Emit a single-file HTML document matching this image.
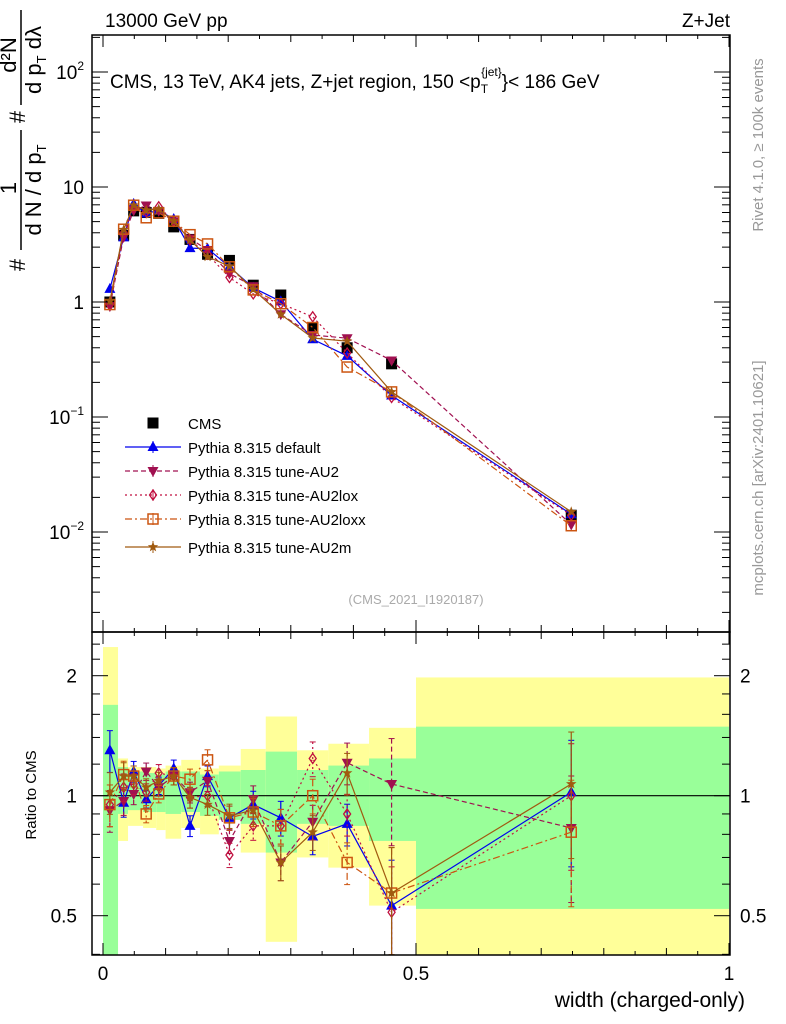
<!DOCTYPE html>
<html><head><meta charset="utf-8"><style>
body{margin:0;background:#fff;}
svg{font-family:"Liberation Sans",sans-serif;display:block;}
</style></head><body>
<svg id="c" width="786" height="1024" viewBox="0 0 786 1024"></svg>
<script>
const binEdges=[0,0.024,0.04,0.064,0.085,0.10,0.125,0.155,0.185,0.22,0.26,0.31,0.36,0.425,0.5,1.0];
const xPts=[0.011,0.033,0.049,0.069,0.089,0.113,0.139,0.167,0.202,0.24,0.284,0.335,0.39,0.461,0.748];
const cmsVals=[1.0,3.8,6.2,6.0,5.9,4.5,3.5,2.6,2.3,1.4,1.15,0.6,0.4,0.29,0.014];
const yellowHi=[2.36,1.24,1.18,1.18,1.17,1.19,1.23,1.17,1.19,1.31,1.58,1.30,1.35,1.48,1.98];
const greenHi=[1.69,1.18,1.15,1.14,1.13,1.15,1.15,1.13,1.15,1.16,1.29,1.16,1.19,1.24,1.49];
const greenLo=[0.3,0.90,0.92,0.91,0.91,0.90,0.91,0.89,0.87,0.85,0.72,0.85,0.84,0.77,0.52];
const yellowLo=[0.3,0.77,0.84,0.83,0.82,0.78,0.83,0.80,0.87,0.72,0.43,0.70,0.66,0.53,0.35];
const rDefault=[1.30,0.96,1.15,0.98,1.06,1.17,0.84,1.12,0.88,0.95,0.88,0.79,0.85,0.53,1.02];
const rAU2=[0.92,0.97,1.01,1.15,1.05,1.12,1.02,1.09,0.77,0.98,0.68,0.86,1.21,1.07,0.83];
const rAU2lox=[0.95,1.05,1.07,1.02,1.14,1.12,0.99,1.0,0.71,0.84,0.84,1.24,0.90,0.51,1.0];
const rAU2loxx=[0.95,1.13,1.12,0.90,1.01,1.12,1.10,1.23,0.88,0.91,0.84,1.0,0.68,0.57,0.81];
const rAU2m=[1.02,1.12,1.12,1.05,1.09,1.12,0.99,0.95,0.89,0.92,0.68,0.81,1.14,0.57,1.07];
const relErr=[0.12,0.08,0.06,0.05,0.05,0.05,0.06,0.06,0.07,0.08,0.1,0.1,0.12,0.3,0.35];

const NS="http://www.w3.org/2000/svg";
const svg=document.getElementById('c');
const X0=92,X1=730,T0=35,T1=632,B1=955;
const xs=v=>103+626*v;
const ym=v=>302-115*Math.log10(v);
const yr=r=>795.7-120*Math.log2(r);
function el(tag,attrs,parent){const e=document.createElementNS(NS,tag);for(const k in attrs)e.setAttribute(k,attrs[k]);(parent||svg).appendChild(e);return e;}
function txt(s,attrs,parent){const e=el('text',attrs,parent);e.textContent=s;return e;}

const defs=el('defs',{});
const cp1=el('clipPath',{id:'cm'},defs);el('rect',{x:X0,y:T0,width:X1-X0,height:T1-T0},cp1);
const cp2=el('clipPath',{id:'cr'},defs);el('rect',{x:X0,y:T1,width:X1-X0,height:B1-T1},cp2);

const gR=el('g',{'clip-path':'url(#cr)'});


for(let i=0;i<binEdges.length-1;i++){
  const a=xs(binEdges[i]),b=xs(binEdges[i+1]);
  const y=el('rect',{x:a,y:yr(yellowHi[i]),width:b-a,height:yr(yellowLo[i])-yr(yellowHi[i]),fill:'#ffff99'},gR);
  
  
  const g=el('rect',{x:a,y:yr(greenHi[i]),width:b-a,height:yr(greenLo[i])-yr(greenHi[i]),fill:'#99ff99'},gR);
  
  
}
el('line',{x1:X0,x2:X1,y1:yr(1),y2:yr(1),stroke:'#000','stroke-width':1.2},gR);

const gM=el('g',{'clip-path':'url(#cm)'});



function marker(kind,color,x,y,p){
  let m;
  if(kind==='sq')m=el('rect',{x:x-5.5,y:y-5.5,width:11,height:11,fill:'#000'},p);
  else if(kind==='tu')m=el('polygon',{points:`${x},${y-6} ${x-5.5},${y+4} ${x+5.5},${y+4}`,fill:color},p);
  else if(kind==='td')m=el('polygon',{points:`${x},${y+6} ${x-5.5},${y-4} ${x+5.5},${y-4}`,fill:color},p);
  else if(kind==='di')m=el('polygon',{points:`${x},${y-5} ${x+3.5},${y} ${x},${y+5} ${x-3.5},${y}`,fill:'none',stroke:color,'stroke-width':1.3},p);
  else if(kind==='os')m=el('rect',{x:x-5,y:y-5,width:10,height:10,fill:'none',stroke:color,'stroke-width':1.5},p);
  else if(kind==='st'){let pts=[];for(let k=0;k<10;k++){const r=k%2?2.3:5.5,a=-Math.PI/2+k*Math.PI/5;pts.push((x+r*Math.cos(a)).toFixed(1)+','+(y+r*Math.sin(a)).toFixed(1));}m=el('polygon',{points:pts.join(' '),fill:color},p);}
  return m;
}
const series=[
 {name:'Pythia 8.315 default',r:rDefault,c:'#0000ee',k:'tu',d:'',id:'default'},
 {name:'Pythia 8.315 tune-AU2',r:rAU2,c:'#a01050',k:'td',d:'5,3',id:'au2'},
 {name:'Pythia 8.315 tune-AU2lox',r:rAU2lox,c:'#c01040',k:'di',d:'2,3',id:'au2lox'},
 {name:'Pythia 8.315 tune-AU2loxx',r:rAU2loxx,c:'#cc5511',k:'os',d:'7,3,2,3',id:'au2loxx'},
 {name:'Pythia 8.315 tune-AU2m',r:rAU2m,c:'#a05a10',k:'st',d:'',id:'au2m'}
];
for(let i=0;i<xPts.length;i++){
  const m=marker('sq','#000',xs(xPts[i]),ym(cmsVals[i]),gM);
  
  
}
series.forEach(s=>{
  const pm=xPts.map((x,i)=>xs(x)+','+ym(cmsVals[i]*s.r[i]).toFixed(1)).join(' ');
  const l=el('polyline',{points:pm,fill:'none',stroke:s.c,'stroke-width':1.2,'stroke-dasharray':s.d},gM);
  
  
  const pr=xPts.map((x,i)=>xs(x)+','+yr(s.r[i]).toFixed(1)).join(' ');
  const l2=el('polyline',{points:pr,fill:'none',stroke:s.c,'stroke-width':1.2,'stroke-dasharray':s.d},gR);
  
  
  xPts.forEach((x,i)=>{
    const cx=xs(x),v=s.r[i],e=relErr[i];
    el('line',{x1:cx,x2:cx,y1:yr(v*(1+e)),y2:yr(v*(1-e)),stroke:s.c,'stroke-width':1.2,'stroke-dasharray':s.d},gR);
    el('line',{x1:cx-3,x2:cx+3,y1:yr(v*(1+e)),y2:yr(v*(1+e)),stroke:s.c},gR);
    el('line',{x1:cx-3,x2:cx+3,y1:yr(v*(1-e)),y2:yr(v*(1-e)),stroke:s.c},gR);
    const m=marker(s.k,s.c,cx,ym(cmsVals[i]*v),gM);
    
    
    const m2=marker(s.k,s.c,cx,yr(v),gR);
    
    
  });
});

el('rect',{x:X0,y:T0,width:X1-X0,height:T1-T0,fill:'none',stroke:'#000','stroke-width':1.5});
el('rect',{x:X0,y:T1,width:X1-X0,height:B1-T1,fill:'none',stroke:'#000','stroke-width':1.5});
for(let k=0;k<=20;k++){const v=k*0.05,x=xs(v);const L=k%10===0?12:(k%2===0?7:4);
  [[T0,1],[T1,-1],[T1,1],[B1,-1]].forEach(([y,d])=>el('line',{x1:x,x2:x,y1:y,y2:y+d*L,stroke:'#000'}));}
[['0',0],['0.5',0.5],['1',1]].forEach(([s,v])=>{const t=txt(s,{x:xs(v),y:980,'font-size':19,'text-anchor':'middle'});});
for(let e=-3;e<=2;e++)for(let m=1;m<10;m++){const v=m*Math.pow(10,e),y=ym(v);if(y<T0||y>T1)continue;const L=m===1?16:8;
  el('line',{x1:X0,x2:X0+L,y1:y,y2:y,stroke:'#000'});el('line',{x1:X1,x2:X1-L,y1:y,y2:y,stroke:'#000'});}
[[1,'1'],[10,'10']].forEach(([v,s])=>{const t=txt(s,{x:84,y:ym(v)+7,'font-size':19,'text-anchor':'end'});});
[[100,'2'],[0.1,'−1'],[0.01,'−2']].forEach(([v,s])=>{const t=el('text',{x:84,y:ym(v)+7,'font-size':19,'text-anchor':'end'});
  t.innerHTML='10<tspan font-size="12" dy="-9">'+s+'</tspan>';});
[0.4,0.5,0.6,0.7,0.8,0.9,1,1.2,1.4,1.6,1.8,2,2.2,2.4].forEach(v=>{const y=yr(v);const L=(v===0.5||v===1||v===2)?16:8;
  el('line',{x1:X0,x2:X0+L,y1:y,y2:y,stroke:'#000'});el('line',{x1:X1,x2:X1-L,y1:y,y2:y,stroke:'#000'});});
[[2,'2'],[1,'1'],[0.5,'0.5']].forEach(([v,s])=>{
  const a=txt(s,{x:77,y:yr(v)+7,'font-size':19,'text-anchor':'end'});
  const b=txt(s,{x:740,y:yr(v)+7,'font-size':19});});

const lg=el('g',{});
const ly=[423,447,471,495,519,547];
marker('sq','#000',153,ly[0],lg);
txt('CMS',{x:188,y:ly[0]+6,'font-size':15},lg);
series.forEach((s,i)=>{const y=ly[i+1];
  el('line',{x1:125,x2:181,y1:y,y2:y,stroke:s.c,'stroke-width':1.2,'stroke-dasharray':s.d},lg);
  el('line',{x1:153,x2:153,y1:y-6,y2:y+6,stroke:s.c},lg);
  marker(s.k,s.c,153,y,lg);
  const t=txt(s.name,{x:188,y:y+6,'font-size':15},lg);});
</script>
<div style="position:absolute;left:0;top:0;width:786px;height:1024px;pointer-events:none">
<svg width="786" height="1024" style="font-family:'Liberation Sans',sans-serif">
<text x="105" y="27" font-size="19">13000 GeV pp</text>
<text x="730" y="27" font-size="19" text-anchor="end">Z+Jet</text>
<text x="110" y="88" font-size="19">CMS, 13 TeV, AK4 jets, Z+jet region, 150 &lt;p<tspan font-size="12" dy="5">T</tspan><tspan font-size="12" dy="-17" dx="-7">{jet}</tspan><tspan dy="12">}&lt; 186 GeV</tspan></text>
<text x="416" y="604" font-size="13" fill="#aaa" text-anchor="middle">(CMS_2021_I1920187)</text>
<text transform="translate(763,145) rotate(-90)" font-size="15" fill="#999" text-anchor="middle">Rivet 4.1.0, ≥ 100k events</text>
<text transform="translate(763,478) rotate(-90)" font-size="15" fill="#999" text-anchor="middle">mcplots.cern.ch [arXiv:2401.10621]</text>
<text transform="translate(36,795) rotate(-90)" font-size="15" text-anchor="middle">Ratio to CMS</text>
<text x="745" y="1007" font-size="21" text-anchor="end">width (charged-only)</text>
<g font-size="22">
<text transform="translate(25,265) rotate(-90)" text-anchor="middle">#</text>
<text transform="translate(16,188) rotate(-90)" text-anchor="middle">1</text>
<line x1="21" x2="21" y1="130" y2="250" stroke="#000" stroke-width="1.5"/>
<text transform="translate(41,190) rotate(-90)" text-anchor="middle">d N / d p<tspan font-size="13" dy="5">T</tspan></text>
<text transform="translate(25,117) rotate(-90)" text-anchor="middle">#</text>
<text transform="translate(16,55) rotate(-90)" text-anchor="middle">d²N</text>
<line x1="21" x2="21" y1="10" y2="105" stroke="#000" stroke-width="1.5"/>
<text transform="translate(41,60) rotate(-90)" text-anchor="middle">d p<tspan font-size="13" dy="5">T</tspan><tspan dy="-5"> dλ</tspan></text>
</g>
</svg></div>
</body></html>
